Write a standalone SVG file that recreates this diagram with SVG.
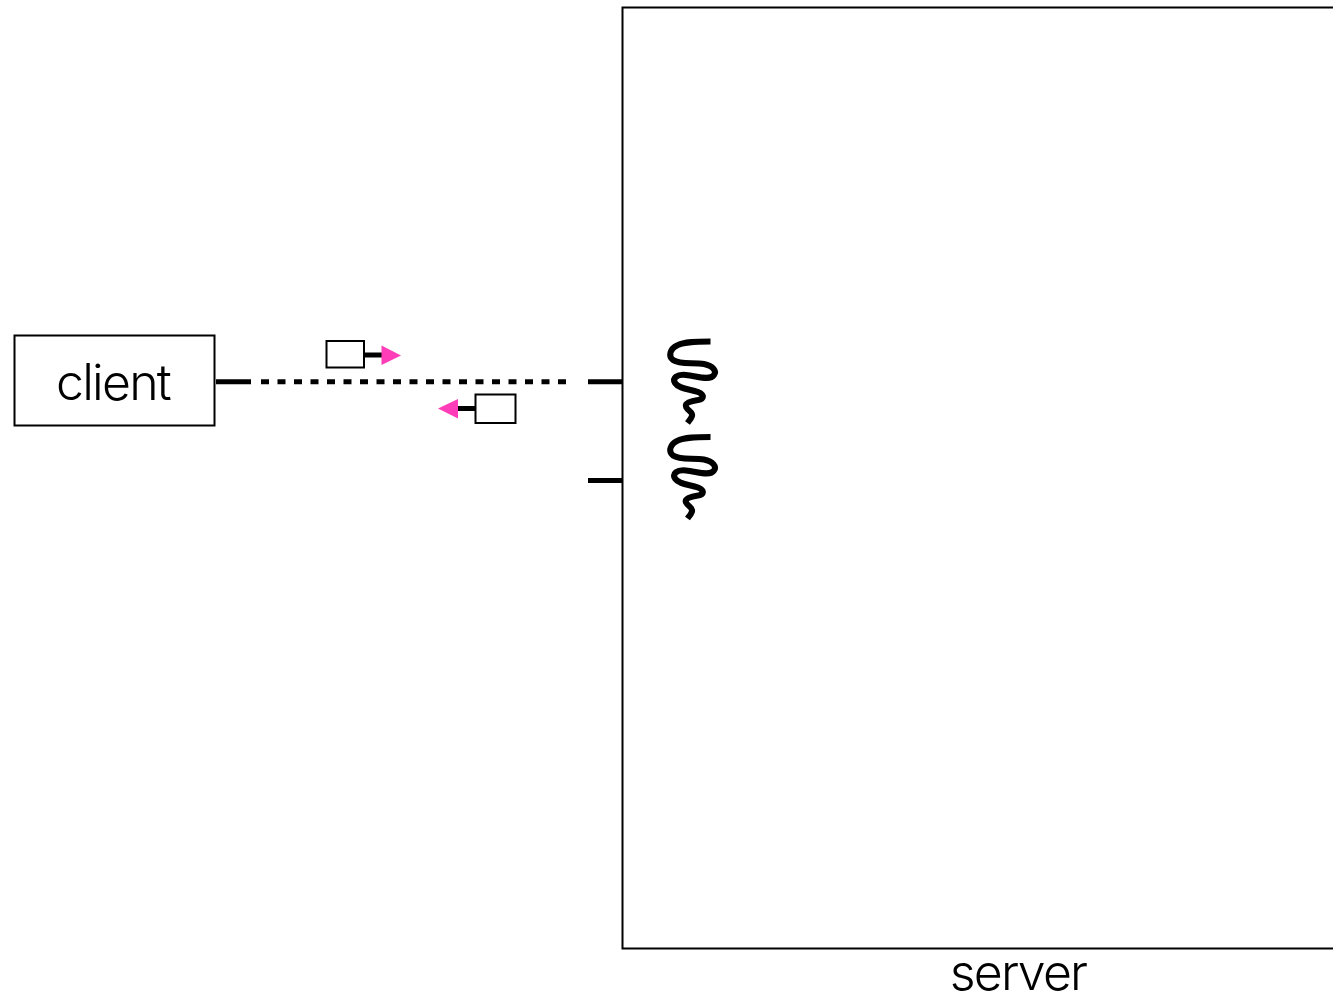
<svg xmlns="http://www.w3.org/2000/svg" width="1333" height="996" viewBox="0 0 1333 996">
<style>
.box{fill:#fff;stroke:#000;stroke-width:2}
.wire{fill:none;stroke:#000;stroke-width:5}
.head{fill:#ff3db8}
.label{font-family:"Inter","Liberation Sans",sans-serif;font-weight:300;font-size:50px;letter-spacing:-1.8px;fill:#000;text-anchor:middle}
.squiggle{fill:none;stroke:#000;stroke-width:6;stroke-linecap:butt;stroke-linejoin:round}
</style>
<defs>
<path id="sq" class="squiggle" d="M710.500 341.500C697 341.500 684 341.500 677 345.500C670 349 668 356 673 360C680 365 694 362 704 364C713 366 717 371 714 375C710 381 697 376 686 375C677 374 672 378 675 383C679 389 690 389 698 392C705 395 704 399 698 400C691 401 684 403 686 407C688 411 693 412 692 416C691 419 689 421 687.500 423"/>
</defs>
<rect width="1333" height="996" fill="#fff"/>
<g id="server">
<path class="box" d="M1334 7.500H622.500V948.500H1334"/>
<text class="label" x="1018" y="990">server</text>
</g>
<g id="client">
<rect class="box" x="14.500" y="335.500" width="200" height="90"/>
<text class="label" x="113" y="399.500">client</text>
</g>
<g id="threads">
<use id="thread-1" href="#sq"/>
<use id="thread-2" href="#sq" y="95.500"/>
</g>
<g id="connectors">
<path class="wire" d="M216 381.800H251"/>
<path class="wire" d="M261 381.800H567" stroke-dasharray="8 8.500"/>
<path class="wire" d="M588 381.800H623"/>
<path class="wire" d="M588 480.500H623"/>
</g>
<g id="packet-out">
<rect class="box" x="326.500" y="341" width="37.500" height="26.500"/>
<path class="wire" d="M365 355H382"/>
<path class="head" d="M381.500 345.500L401 355.500L381.500 365Z"/>
</g>
<g id="packet-in">
<rect class="box" x="475.500" y="394.500" width="40" height="28.500"/>
<path class="wire" d="M458 408.500H475"/>
<path class="head" d="M438 408.500L458 399V418.500Z"/>
</g>
</svg>
